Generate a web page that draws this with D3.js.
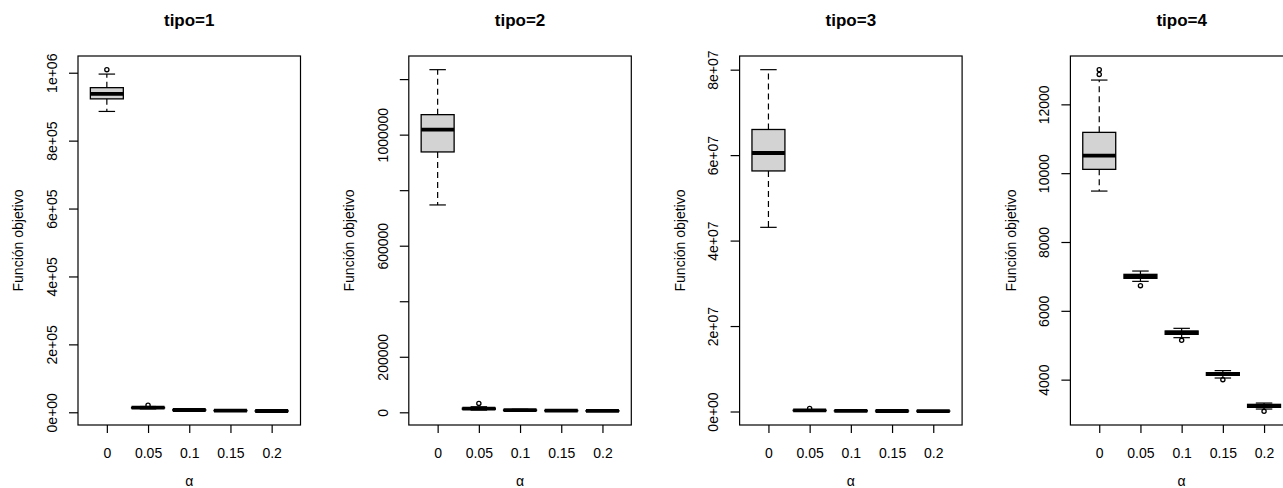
<!DOCTYPE html>
<html>
<head>
<meta charset="utf-8">
<script src="https://cdn.jsdelivr.net/npm/d3@7"></script>
<style>
  body { margin: 0; background: #fff; }
  svg { display: block; }
  text { font-family: "Liberation Sans", Arial, Helvetica, sans-serif; fill: #000; }
</style>
</head>
<body>
<svg id="chart" width="1283" height="488"></svg>
<script>
"use strict";

// Categorías del eje x y títulos de cada panel
var alphas = ["0", "0.05", "0.1", "0.15", "0.2"];
var titulos = ["tipo=1", "tipo=2", "tipo=3", "tipo=4"];

// Cada caja: [bigote inferior, Q1, mediana, Q3, bigote superior]
var cajasTipo1 = [
  [886000, 923000, 938000, 956000, 996000],
  [10000, 12500, 13500, 14500, 17000],
  [5000, 6200, 6800, 7400, 8500],
  [3500, 4500, 5000, 5500, 6500],
  [2800, 3400, 3800, 4200, 5000]
];
var atipicosTipo1 = [[1009000], [21000], [], [], []];
var ticksTipo1 = [0, 2e5, 4e5, 6e5, 8e5, 1e6];
var etiquetasTipo1 = ["0e+00", "2e+05", "4e+05", "6e+05", "8e+05", "1e+06"];

var cajasTipo2 = [
  [746800, 937700, 1018000, 1072000, 1234000],
  [8000, 11000, 13000, 15000, 20000],
  [5000, 6500, 7500, 8500, 11000],
  [4000, 5200, 6000, 6800, 9000],
  [3500, 4300, 5000, 5800, 7500]
];
var atipicosTipo2 = [[], [32000], [], [], []];
var ticksTipo2 = [0, 2e5, 4e5, 6e5, 8e5, 1e6, 1.2e6];
var etiquetasTipo2 = ["0", "200000", "", "600000", "", "1000000", ""];

var cajasTipo3 = [
  [43100000, 56300000, 60500000, 66000000, 80000000],
  [100000, 200000, 250000, 300000, 450000],
  [60000, 120000, 150000, 180000, 260000],
  [50000, 100000, 120000, 140000, 200000],
  [40000, 80000, 100000, 120000, 170000]
];
var atipicosTipo3 = [[], [700000], [], [], []];
var ticksTipo3 = [0, 2e7, 4e7, 6e7, 8e7];
var etiquetasTipo3 = ["0e+00", "2e+07", "4e+07", "6e+07", "8e+07"];

var cajasTipo4 = [
  [9480, 10111, 10509, 11186, 12706],
  [6856, 6944, 7002, 7060, 7156],
  [5220, 5316, 5366, 5413, 5491],
  [4047, 4125, 4163, 4203, 4262],
  [3146, 3195, 3233, 3282, 3320]
];
var atipicosTipo4 = [[12871, 13008], [6731], [5142], [4000], [3079]];
var ticksTipo4 = [4000, 6000, 8000, 10000, 12000];
var etiquetasTipo4 = ["4000", "6000", "8000", "10000", "12000"];

var paneles = [
  { cajas: cajasTipo1, atipicos: atipicosTipo1, ticks: ticksTipo1, etiquetas: etiquetasTipo1 },
  { cajas: cajasTipo2, atipicos: atipicosTipo2, ticks: ticksTipo2, etiquetas: etiquetasTipo2 },
  { cajas: cajasTipo3, atipicos: atipicosTipo3, ticks: ticksTipo3, etiquetas: etiquetasTipo3 },
  { cajas: cajasTipo4, atipicos: atipicosTipo4, ticks: ticksTipo4, etiquetas: etiquetasTipo4 }
];

var svg = d3.select("#chart");
svg.append("rect").attr("width", 1283).attr("height", 488).attr("fill", "#fff");

var izq0 = 78, paso = 330.8, ancho = 222.5, arriba = 56, abajo = 425;
var fuente = 14;

/**
 * Dibuja un panel de diagramas de caja.
 */
function panel(i, p) {
  var izq = izq0 + paso * i;
  var g = svg.append("g");

  var x = d3.scaleLinear().domain([0.3, 5.7]).range([izq, izq + ancho]);

  // rango de los datos extendido un 4% como en R
  var valores = d3.merge(p.cajas.concat(p.atipicos));
  var lo = d3.min(valores), hi = d3.max(valores), ext = 0.04 * (hi - lo);
  var y = d3.scaleLinear().domain([lo - ext, hi + ext]).range([abajo, arriba]);

  var mitad = 0.4 * (x(2) - x(1));
  var datos = p.cajas.map(function (c, k) { return { c: c, k: k + 1, out: p.atipicos[k] }; });

  var caja = g.selectAll("g.caja").data(datos).enter().append("g").attr("class", "caja");

  // bigotes punteados
  caja.append("line")
    .attr("x1", function (d) { return x(d.k); })
    .attr("x2", function (d) { return x(d.k); })
    .attr("y1", function (d) { return y(d.c[3]); })
    .attr("y2", function (d) { return y(d.c[4]); })
    .attr("stroke", "#000").attr("stroke-width", 1.2).attr("stroke-dasharray", "6,4");
  caja.append("line")
    .attr("x1", function (d) { return x(d.k); })
    .attr("x2", function (d) { return x(d.k); })
    .attr("y1", function (d) { return y(d.c[1]); })
    .attr("y2", function (d) { return y(d.c[0]); })
    .attr("stroke", "#000").attr("stroke-width", 1.2).attr("stroke-dasharray", "6,4");

  // topes de los bigotes
  [0, 4].forEach(function (j) {
    caja.append("line")
      .attr("x1", function (d) { return x(d.k) - mitad / 2; })
      .attr("x2", function (d) { return x(d.k) + mitad / 2; })
      .attr("y1", function (d) { return y(d.c[j]); })
      .attr("y2", function (d) { return y(d.c[j]); })
      .attr("stroke", "#000").attr("stroke-width", 1.2);
  });

  caja.append("rect")
    .attr("x", function (d) { return x(d.k) - mitad; })
    .attr("width", 2 * mitad)
    .attr("y", function (d) { return y(d.c[3]); })
    .attr("height", function (d) { return y(d.c[1]) - y(d.c[3]); })
    .attr("fill", "#d3d3d3").attr("stroke", "#000").attr("stroke-width", 1.3);

  caja.append("line")
    .attr("x1", function (d) { return x(d.k) - mitad; })
    .attr("x2", function (d) { return x(d.k) + mitad; })
    .attr("y1", function (d) { return y(d.c[2]); })
    .attr("y2", function (d) { return y(d.c[2]); })
    .attr("stroke", "#000").attr("stroke-width", 3.8);

  caja.selectAll("circle")
    .data(function (d) { return d.out.map(function (v) { return { k: d.k, v: v }; }); })
    .enter().append("circle")
    .attr("cx", function (d) { return x(d.k); })
    .attr("cy", function (d) { return y(d.v); })
    .attr("r", 2.1)
    .attr("fill", "none").attr("stroke", "#000").attr("stroke-width", 1.3);

  // marco
  g.append("rect")
    .attr("x", izq).attr("y", arriba)
    .attr("width", ancho).attr("height", abajo - arriba)
    .attr("fill", "none").attr("stroke", "#000").attr("stroke-width", 1.2);

  // eje x
  var ejeX = g.append("g")
    .attr("transform", "translate(0," + abajo + ")")
    .call(d3.axisBottom(x)
      .tickValues([1, 2, 3, 4, 5])
      .tickFormat(function (d) { return alphas[d - 1]; })
      .tickSize(8).tickSizeOuter(0).tickPadding(14.8));
  ejeX.select(".domain").remove();
  ejeX.selectAll("line").attr("stroke", "#000").attr("stroke-width", 1.2);
  ejeX.selectAll("text").attr("font-size", fuente).attr("fill", "#000");
  ejeX.attr("font-family", null);

  // eje y
  var ejeY = g.append("g")
    .attr("transform", "translate(" + izq + ",0)")
    .call(d3.axisLeft(y)
      .tickValues(p.ticks)
      .tickFormat(function (d, k) { return p.etiquetas[k]; })
      .tickSize(9).tickSizeOuter(0));
  ejeY.select(".domain").remove();
  ejeY.selectAll("line").attr("stroke", "#000").attr("stroke-width", 1.2);
  ejeY.selectAll("text")
    .attr("x", null).attr("dy", null)
    .attr("text-anchor", "middle")
    .attr("font-size", fuente).attr("fill", "#000")
    .attr("transform", "translate(-21.3,0) rotate(-90)");
  ejeY.attr("font-family", null).attr("text-anchor", null);

  // títulos
  g.append("text")
    .attr("x", izq + ancho / 2).attr("y", 25.7)
    .attr("text-anchor", "middle")
    .attr("font-size", 17).attr("font-weight", "bold")
    .text(titulos[i]);

  g.append("text")
    .attr("x", izq + ancho / 2).attr("y", 486)
    .attr("text-anchor", "middle")
    .attr("font-size", fuente)
    .text("α");

  g.append("text")
    .attr("transform", "translate(" + (izq - 54.7) + "," + ((arriba + abajo) / 2) + ") rotate(-90)")
    .attr("text-anchor", "middle")
    .attr("font-size", fuente)
    .text("Función objetivo");
}

paneles.forEach(function (p, i) { panel(i, p); });
</script>
</body>
</html>
